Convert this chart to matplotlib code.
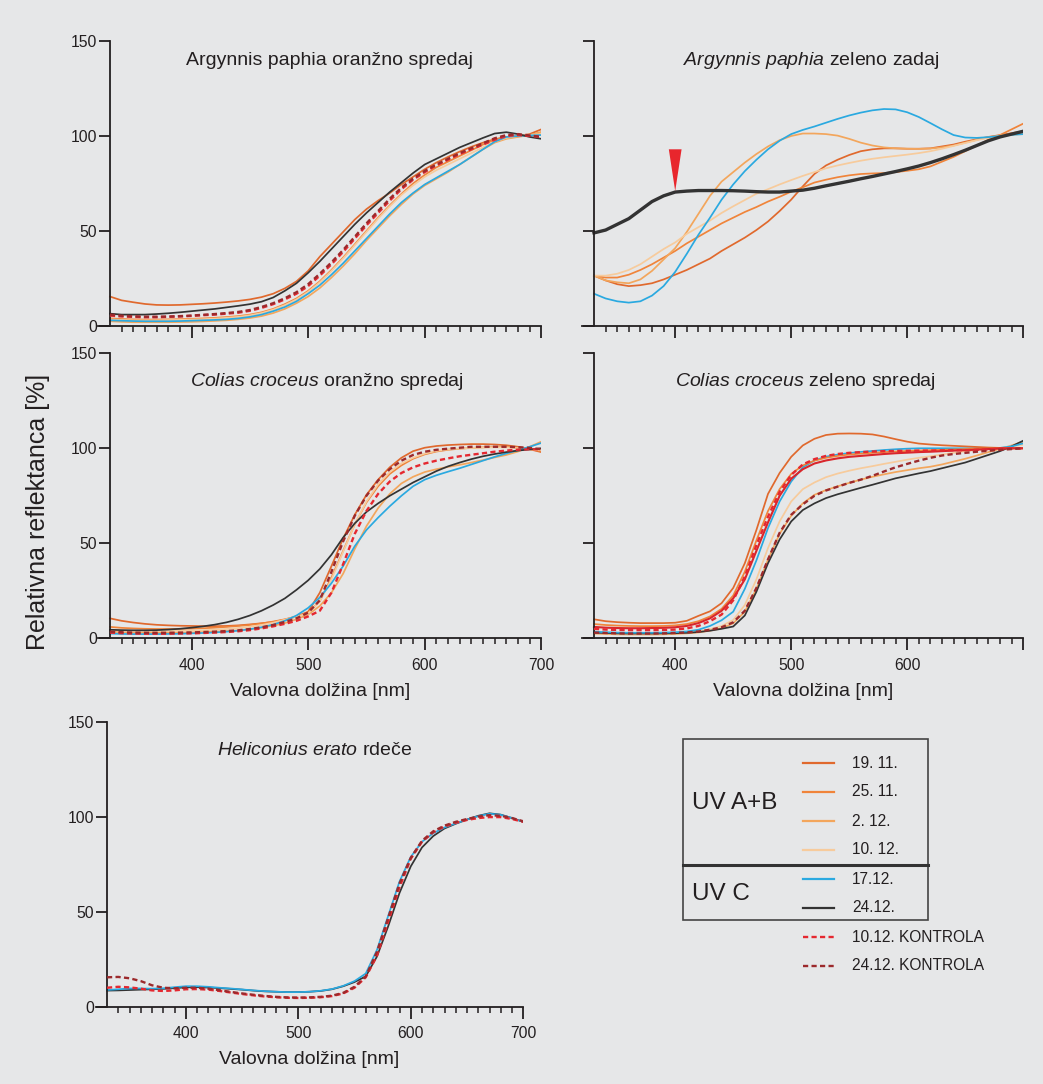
import matplotlib
matplotlib.use('Agg')
import matplotlib.pyplot as plt
from matplotlib.patches import Rectangle, Polygon

plt.rcParams['font.family'] = ['Liberation Sans', 'DejaVu Sans']
plt.rcParams['mathtext.fontset'] = 'custom'
plt.rcParams['mathtext.rm'] = 'Liberation Sans'
plt.rcParams['mathtext.it'] = 'Liberation Sans:italic'
plt.rcParams['mathtext.bf'] = 'Liberation Sans:bold'

# ---------------- data ----------------
wavelength = list(range(330, 710, 10))   # nm, 330 ... 700

labels = ['19. 11.', '25. 11.', '2. 12.', '10. 12.', '17.12.', '24.12.',
          '10.12. KONTROLA', '24.12. KONTROLA']
colors = ['#e0692d', '#f0843a', '#f3a65c', '#f7cb9c', '#2aa9e0', '#333333',
          '#e52830', '#9c2a2c']
styles = ['-', '-', '-', '-', '-', '-', '--', '--']

# Argynnis paphia oranžno spredaj
apo_1911 = [15.5,13.5,12.5,11.6,11.1,11.0,11.1,11.4,11.7,12.1,12.6,13.2,14.0,15.2,17.0,19.8,23.5,29.0,36.5,43.0,49.5,56.0,61.5,66.0,70.0,74.5,78.5,82.5,86.0,89.0,91.8,94.3,96.5,98.3,99.5,100.0,101.0,103.5]
apo_2511 = [4.0,3.7,3.5,3.4,3.4,3.5,3.6,3.8,4.0,4.3,4.7,5.2,6.0,7.2,9.0,11.5,14.5,18.5,23.5,29.5,36.0,43.0,50.0,57.0,63.5,69.5,75.0,79.5,83.5,86.5,89.5,92.5,95.5,98.0,99.5,99.8,100.5,102.0]
apo_0212 = [2.5,2.2,2.0,2.0,2.0,2.0,2.1,2.2,2.4,2.7,3.0,3.5,4.2,5.2,6.8,9.0,12.0,15.5,20.0,25.5,31.5,38.0,45.0,51.5,58.0,64.0,69.5,74.0,77.5,81.0,85.0,89.0,93.0,96.5,98.5,99.5,100.5,102.0]
apo_1012 = [3.5,3.2,3.0,3.0,3.0,3.1,3.2,3.4,3.6,3.9,4.3,4.8,5.6,6.8,8.6,11.0,14.0,18.0,23.0,29.0,35.5,42.5,49.5,56.5,63.0,69.0,74.0,78.5,82.0,85.0,88.0,91.0,94.0,97.0,99.0,100.0,100.5,101.0]
apo_1712 = [3.0,2.8,2.6,2.5,2.5,2.5,2.6,2.8,3.0,3.2,3.5,4.0,4.8,6.0,7.8,10.0,13.0,17.0,21.5,27.0,33.0,39.5,46.0,52.5,59.0,65.0,70.0,74.5,78.0,81.5,85.0,89.0,93.0,97.0,99.5,100.0,100.3,100.5]
apo_2412 = [6.5,6.0,6.0,6.0,6.3,6.7,7.2,7.8,8.4,9.0,9.8,10.6,11.5,12.8,15.0,18.5,22.5,28.0,34.0,40.5,47.0,53.5,59.5,65.0,70.5,75.5,80.5,85.0,88.0,91.0,94.0,96.5,99.0,101.3,102.0,101.0,99.5,98.5]
apo_k1012 = [5.5,5.0,4.8,4.6,4.6,4.8,5.0,5.3,5.7,6.0,6.5,7.0,8.0,9.5,11.5,14.0,17.0,21.0,26.5,32.5,39.0,46.0,53.0,59.5,66.0,72.0,77.0,81.0,84.5,87.5,90.5,93.0,95.5,98.0,100.0,100.5,100.0,99.5]
apo_k2412 = [6.0,5.4,5.1,4.9,4.9,5.0,5.2,5.5,5.9,6.3,6.8,7.4,8.4,10.0,12.0,14.6,17.8,22.0,27.5,33.5,40.0,47.0,54.0,60.5,67.0,72.8,77.6,81.6,85.0,88.0,91.0,93.6,96.2,98.8,100.5,101.0,100.3,99.5]

# Argynnis paphia zeleno zadaj
apz_1911 = [26.5,24.0,22.0,21.0,21.5,22.5,24.5,27.0,29.5,32.5,35.5,39.5,43.0,46.5,50.5,55.0,60.5,66.5,73.5,80.0,84.5,87.5,90.0,92.0,93.0,93.5,93.5,93.3,93.3,93.5,94.5,95.5,97.0,98.3,99.5,100.5,101.5,102.5]
apz_2511 = [26.5,25.5,25.5,27.0,29.5,32.5,36.0,39.5,43.5,47.0,50.5,54.0,57.0,60.0,62.6,65.5,68.0,70.7,73.0,75.5,77.0,78.3,79.3,80.0,80.3,80.5,81.0,81.7,82.5,84.0,86.5,89.0,92.0,95.0,98.0,100.5,103.5,106.5]
apz_0212 = [26.5,24.0,23.0,22.5,24.5,29.0,35.0,41.0,49.5,59.0,68.5,76.0,81.0,86.0,90.5,94.5,97.8,100.0,101.3,101.3,101.0,100.2,98.5,96.5,95.0,94.0,93.5,93.3,93.2,93.4,94.0,95.0,96.5,98.0,99.3,100.3,101.0,101.5]
apz_1012 = [26.5,26.5,27.5,29.5,32.5,36.5,40.5,44.0,48.5,52.0,55.5,59.5,63.0,66.3,69.6,72.0,74.5,76.8,79.0,81.0,83.0,84.5,85.8,87.0,88.0,88.8,89.5,90.2,91.0,92.0,93.3,94.8,96.3,97.8,99.0,100.0,100.5,101.0]
apz_1712 = [17.0,14.5,13.0,12.3,13.0,16.0,21.0,28.5,38.0,48.0,57.0,66.5,74.5,81.5,87.5,93.0,97.5,101.0,103.2,105.0,107.0,109.0,110.8,112.3,113.5,114.2,114.0,112.5,110.0,106.8,103.5,100.5,99.2,99.0,99.4,100.0,100.6,101.0]
apz_2412 = [49.0,50.5,53.5,56.5,61.0,65.5,68.5,70.5,71.0,71.3,71.3,71.3,71.2,71.0,70.7,70.5,70.5,71.0,71.5,72.5,73.8,75.0,76.2,77.5,78.7,80.0,81.3,82.7,84.2,86.0,88.0,90.2,92.5,95.0,97.5,99.5,101.0,102.5]
arrow_wl = 400
arrow_tip = 71
arrow_top = 93

# Colias croceus oranžno spredaj
cco_1911 = [10.5,9.2,8.3,7.6,7.1,6.8,6.6,6.5,6.4,6.4,6.5,6.8,7.3,7.9,8.6,9.8,11.5,14.0,24.0,38.0,52.5,65.0,75.5,83.5,90.0,95.0,98.5,100.3,101.2,101.7,102.0,102.2,102.2,102.0,101.6,100.8,99.5,98.0]
cco_2511 = [6.0,5.5,5.2,5.0,4.9,4.9,5.0,5.1,5.3,5.6,6.0,6.5,7.0,7.8,8.8,10.0,11.5,13.5,19.5,32.0,46.0,60.0,71.5,80.0,86.5,91.0,94.5,96.8,98.3,99.2,99.8,100.2,100.5,100.7,100.7,100.3,99.5,98.5]
cco_0212 = [3.5,3.2,3.0,2.9,2.9,2.9,3.0,3.1,3.3,3.5,3.8,4.2,4.8,5.6,6.6,8.0,10.0,12.5,17.0,24.0,34.0,47.0,59.0,68.5,76.0,81.5,85.0,87.5,89.0,90.2,91.3,92.5,93.8,95.2,96.5,98.3,100.8,103.5]
cco_1012 = [4.5,4.1,3.9,3.8,3.8,3.8,3.9,4.0,4.2,4.5,4.9,5.4,6.1,7.0,8.2,9.8,11.5,13.0,19.5,31.0,45.5,60.0,72.0,81.0,87.5,92.0,95.0,97.2,98.6,99.4,99.9,100.2,100.4,100.5,100.4,100.1,99.5,99.0]
cco_1712 = [2.5,2.3,2.2,2.2,2.2,2.3,2.4,2.6,2.8,3.1,3.5,4.0,4.8,5.8,7.2,9.2,12.0,16.0,21.5,29.0,38.0,48.5,57.0,63.5,69.5,75.0,80.0,83.5,85.8,87.7,89.5,91.5,93.5,95.5,97.3,99.0,100.8,102.8]
cco_2412 = [4.5,4.3,4.2,4.2,4.3,4.6,5.0,5.6,6.3,7.2,8.4,10.0,12.0,14.5,17.5,21.0,25.5,30.5,36.5,44.0,53.0,60.5,66.5,71.0,75.0,78.5,82.0,85.0,88.0,90.5,92.5,94.3,95.8,97.0,98.0,98.8,99.4,100.0]
cco_k1012 = [3.0,2.7,2.5,2.4,2.4,2.4,2.5,2.6,2.8,3.0,3.3,3.7,4.3,5.2,6.3,7.6,9.2,11.5,14.5,24.0,39.0,55.0,67.0,76.0,82.5,87.0,90.0,92.0,93.5,94.7,95.8,96.6,97.4,98.2,98.8,99.3,99.5,99.5]
cco_k2412 = [3.5,3.2,3.0,2.9,2.9,2.9,3.0,3.1,3.3,3.5,3.8,4.2,4.9,5.8,7.0,8.6,10.5,13.5,20.0,35.0,51.0,64.5,75.0,83.0,89.0,93.5,96.5,98.2,99.2,99.8,100.3,100.8,100.8,100.8,100.8,100.6,100.2,99.5]

# Colias croceus zeleno spredaj
ccz_1911 = [10.0,9.0,8.5,8.2,8.0,8.0,8.0,8.2,9.2,11.8,14.2,18.5,26.5,39.5,57.0,76.0,87.0,95.5,101.5,105.0,107.0,107.7,107.8,107.7,107.3,106.2,104.8,103.5,102.5,102.0,101.6,101.3,101.0,100.7,100.4,100.2,100.0,100.0]
ccz_2511 = [7.5,7.0,6.7,6.5,6.4,6.4,6.5,6.8,7.5,9.0,11.5,15.5,22.5,35.0,51.5,67.0,78.5,86.5,91.0,93.5,95.0,96.0,96.7,97.2,97.6,98.0,98.3,98.6,98.8,99.0,99.2,99.4,99.6,99.8,100.0,100.0,100.0,100.0]
ccz_0212 = [2.5,2.3,2.1,2.0,2.0,2.0,2.1,2.3,2.6,3.1,4.0,5.3,7.9,14.0,26.0,41.5,55.0,64.5,71.0,75.5,78.0,80.0,81.8,83.5,85.0,86.3,87.5,88.5,89.5,90.3,91.5,93.0,94.5,96.2,98.0,99.7,101.5,103.5]
ccz_1012 = [3.0,2.7,2.5,2.4,2.4,2.4,2.5,2.7,3.0,3.6,4.8,6.5,9.6,17.5,31.0,47.5,61.5,72.0,78.5,82.0,84.8,86.7,88.2,89.5,90.6,91.8,92.9,94.0,95.0,95.8,96.7,97.6,98.4,99.2,99.8,100.2,101.0,101.8]
ccz_1712 = [3.5,3.2,3.0,2.9,2.9,2.9,3.0,3.2,3.6,4.5,6.5,9.5,14.0,26.0,41.0,58.0,72.0,82.5,90.0,93.6,95.6,96.7,97.5,98.1,98.6,99.1,99.5,99.8,100.0,100.0,100.0,100.0,100.0,100.0,100.0,100.2,101.0,102.6]
ccz_2412 = [3.0,2.8,2.6,2.5,2.5,2.5,2.6,2.7,2.9,3.3,4.0,5.0,6.2,12.0,24.5,39.5,52.0,61.5,67.5,71.0,73.8,75.8,77.5,79.2,80.8,82.5,84.2,85.5,86.8,88.0,89.5,91.0,92.5,94.5,96.5,98.5,101.0,104.0]
ccz_k1012 = [5.0,4.6,4.4,4.3,4.3,4.3,4.4,4.6,5.2,6.5,9.0,12.5,20.0,32.5,49.0,64.0,77.0,86.0,91.5,94.3,96.0,97.0,97.6,98.0,98.3,98.5,98.6,98.7,98.8,98.8,98.9,99.0,99.0,99.2,99.4,99.8,100.0,100.0]
ccz_k2412 = [3.0,2.8,2.6,2.5,2.5,2.5,2.6,2.8,3.1,3.6,4.5,5.8,8.4,14.5,26.5,41.5,55.5,65.0,70.5,75.0,77.8,79.8,81.8,83.5,85.5,87.8,90.0,91.8,93.5,95.0,96.2,97.0,97.6,98.2,98.7,99.2,99.6,100.0]
ccz_red_solid = [6.0,5.6,5.4,5.3,5.3,5.4,5.5,5.8,6.5,8.0,10.5,14.5,21.0,31.0,46.0,61.0,75.0,84.0,89.0,92.0,93.6,94.7,95.5,96.0,96.5,97.0,97.4,97.7,98.0,98.2,98.5,98.8,99.0,99.3,99.6,99.9,100.0,100.0]

# Heliconius erato rdeče
her_1712 = [8.8,9.2,9.6,9.6,9.5,9.7,10.3,10.8,10.8,10.5,10.0,9.6,9.1,8.6,8.2,7.9,7.7,7.7,7.9,8.4,9.3,11.0,13.5,17.5,30.0,48.0,66.0,79.0,87.0,91.5,94.5,96.7,98.7,100.5,101.8,101.2,99.5,97.5]
her_2412 = [8.5,8.6,8.8,9.0,9.2,9.4,9.8,10.2,10.3,10.1,9.8,9.4,9.0,8.5,8.1,7.9,7.7,7.7,7.9,8.3,9.2,10.8,13.0,16.0,26.5,42.5,60.0,74.0,84.0,90.0,94.0,96.5,98.7,100.7,102.0,101.3,99.5,97.5]
her_k1012 = [10.0,10.5,10.2,9.5,8.6,8.3,8.6,9.2,9.3,9.0,8.3,7.5,6.7,6.0,5.4,5.0,4.7,4.6,4.7,5.0,5.6,7.0,10.0,15.5,27.0,45.0,63.0,78.0,87.0,92.0,95.0,97.0,98.5,99.5,100.0,100.0,99.0,97.5]
her_k2412 = [15.5,15.7,15.0,13.5,11.3,10.0,9.7,10.0,10.0,9.5,8.7,7.8,7.0,6.3,5.7,5.2,4.9,4.8,4.9,5.2,5.8,7.3,10.5,16.0,29.0,47.0,65.0,78.5,87.5,92.5,95.5,97.5,99.0,100.3,101.0,100.7,99.5,97.8]

y_ticks = [0, 50, 100, 150]
x_major = [400, 500, 600, 700]
x_minor = [w for w in range(340, 700, 10) if w % 100 != 0]

# ---------------- figure ----------------
W, H = 1043, 1084
BG = '#e6e7e8'
AX_C = '#231f20'
TXT = '#231f20'
fig = plt.figure(figsize=(W / 100, H / 100), dpi=100, facecolor=BG)

def px_axes(left, right, y0, y150):
    return fig.add_axes([left / W, 1 - y0 / H, (right - left) / W, (y0 - y150) / H])

ax_tl = px_axes(98.3, 541.3, 326, 41)
ax_tr = px_axes(582.4, 1023.2, 326, 41)
ax_ml = px_axes(98.3, 541.3, 638.3, 353.3)
ax_mr = px_axes(582.4, 1023.2, 638.3, 353.3)
ax_b = px_axes(95.75, 523.25, 1006.7, 722.3)


def style(ax, ylabels=True, xlabels=True, hide_last=False):
    ax.set_facecolor('none')
    ax.set_xlim(320, 700)
    ax.set_ylim(0, 150)
    for s in ('top', 'right'):
        ax.spines[s].set_visible(False)
    ax.spines['left'].set_position(('data', 330))
    for s in ('left', 'bottom'):
        ax.spines[s].set_linewidth(1.3)
        ax.spines[s].set_color(AX_C)
    ax.set_xticks(x_major)
    ax.set_xticks(x_minor, minor=True)
    ax.set_yticks(y_ticks)
    ax.tick_params(axis='x', which='major', length=8.6, width=1.3, color=AX_C,
                   labelsize=11.3, pad=5.5, labelcolor=TXT)
    ax.tick_params(axis='x', which='minor', length=4.3, width=1.1, color=AX_C)
    ax.tick_params(axis='y', length=7.7, width=1.3, color=AX_C, labelsize=11.3,
                   pad=1.5, labelcolor=TXT)
    if not ylabels:
        ax.set_yticklabels([])
    if not xlabels:
        ax.set_xticklabels([])
    elif hide_last:
        ax.set_xticklabels([str(v) if v != 700 else '' for v in x_major])


def draw(ax, series, lw=1.25):
    for vals, col, ls in series:
        if ls == '--':
            ax.plot(wavelength, vals, color=col, lw=1.7, linestyle=(0, (2.2, 1.4)), zorder=3)
        else:
            ax.plot(wavelength, vals, color=col, lw=lw, linestyle='-', zorder=2)


def series(arrs, idx):
    return [(a, colors[i], styles[i]) for a, i in zip(arrs, idx)]

# panel 1
style(ax_tl, ylabels=True, xlabels=False)
draw(ax_tl, series([apo_1911, apo_2511, apo_0212, apo_1012, apo_1712, apo_2412, apo_k1012, apo_k2412],
                   [0, 1, 2, 3, 4, 5, 6, 7]))
ax_tl.text(0.523, 0.933, 'Argynnis paphia oranžno spredaj', transform=ax_tl.transAxes,
           ha='center', va='center', fontsize=14, color=TXT)

# panel 2
style(ax_tr, ylabels=False, xlabels=False)
draw(ax_tr, series([apz_1911, apz_2511, apz_0212, apz_1012, apz_1712], [0, 1, 2, 3, 4]))
ax_tr.plot(wavelength, apz_2412, color=colors[5], lw=2.4, zorder=2)
ax_tr.add_patch(Polygon([(arrow_wl - 5.5, arrow_top), (arrow_wl + 5.5, arrow_top),
                         (arrow_wl, arrow_tip)], closed=True, facecolor='#e8262d',
                        edgecolor='none', zorder=4))
ax_tr.text(0.52, 0.933, r'$\mathit{Argynnis\ paphia}$ zeleno zadaj', transform=ax_tr.transAxes,
           ha='center', va='center', fontsize=14, color=TXT)

# panel 3
style(ax_ml, ylabels=True, xlabels=True)
draw(ax_ml, series([cco_1911, cco_2511, cco_0212, cco_1012, cco_1712, cco_2412, cco_k1012, cco_k2412],
                   [0, 1, 2, 3, 4, 5, 6, 7]))
ax_ml.text(0.5156, 0.90, r'$\mathit{Colias\ croceus}$ oranžno spredaj', transform=ax_ml.transAxes,
           ha='center', va='center', fontsize=14, color=TXT)
ax_ml.set_xlabel('Valovna dolžina [nm]', fontsize=14, labelpad=7, color=TXT)

# panel 4
style(ax_mr, ylabels=False, xlabels=True, hide_last=True)
draw(ax_mr, series([ccz_0212, ccz_1012, ccz_2412, ccz_1712, ccz_2511, ccz_1911],
                   [2, 3, 5, 4, 1, 0]))
ax_mr.plot(wavelength, ccz_red_solid, color='#d9262b', lw=1.5, zorder=2)
draw(ax_mr, series([ccz_k1012, ccz_k2412], [6, 7]))
ax_mr.text(0.505, 0.90, r'$\mathit{Colias\ croceus}$ zeleno spredaj', transform=ax_mr.transAxes,
           ha='center', va='center', fontsize=14, color=TXT)
ax_mr.set_xlabel('Valovna dolžina [nm]', fontsize=14, labelpad=7, color=TXT)

# panel 5
style(ax_b, ylabels=True, xlabels=True)
draw(ax_b, series([her_2412, her_1712, her_k1012, her_k2412], [5, 4, 6, 7]))
ax_b.text(0.513, 0.9026, r'$\mathit{Heliconius\ erato}$ rdeče', transform=ax_b.transAxes,
          ha='center', va='center', fontsize=14, color=TXT)
ax_b.set_xlabel('Valovna dolžina [nm]', fontsize=14, labelpad=7, color=TXT)

# shared y label
fig.text(38 / W, 1 - 512 / H, 'Relativna reflektanca [%]', rotation=90,
         ha='center', va='center', fontsize=18, color=TXT)

# ---------------- legend (drawn in pixel space) ----------------
lg = fig.add_axes([0, 0, 1, 1])
lg.set_xlim(0, W)
lg.set_ylim(H, 0)
lg.axis('off')
lg.patch.set_alpha(0)
lg.add_patch(Rectangle((683, 739), 245, 181, facecolor='none', edgecolor='#444444', lw=1.2))
lg.plot([683, 928], [865, 865], color='#333333', lw=2.2)
lg.text(692, 803, 'UV A+B', ha='left', va='center', fontsize=17.5, color=TXT)
lg.text(692, 894, 'UV C', ha='left', va='center', fontsize=17.5, color=TXT)
for i, (lab, col, ls) in enumerate(zip(labels, colors, styles)):
    y = 763 + i * 29.0
    if ls == '--':
        lg.plot([803, 834], [y, y], color=col, lw=1.7, linestyle=(0, (2.2, 1.4)))
    else:
        lg.plot([803, 834], [y, y], color=col, lw=1.6)
    lg.text(852, y, lab, ha='left', va='center', fontsize=11.2, color=TXT)

fig.savefig('out.png', dpi=100, facecolor=BG)
